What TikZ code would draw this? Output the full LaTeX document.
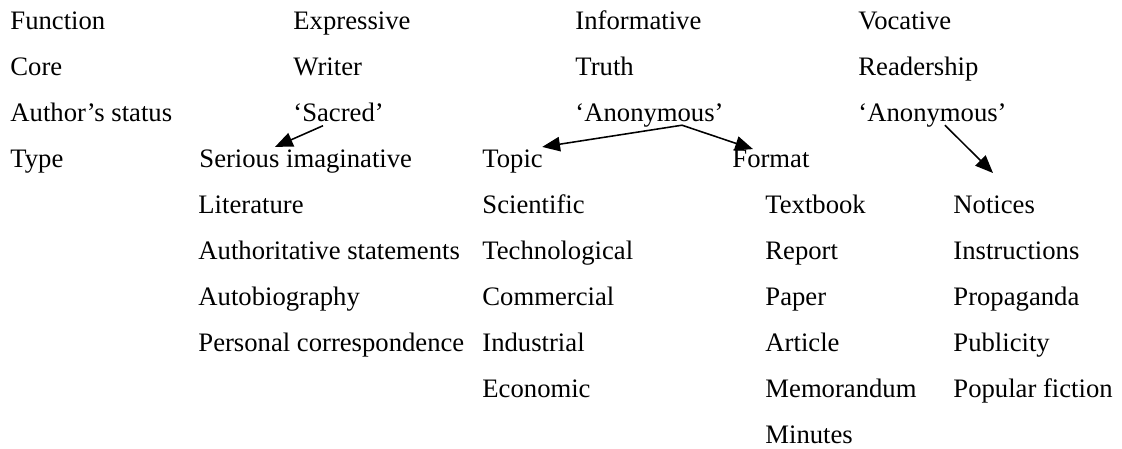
\documentclass[tikz,border=0pt]{standalone}
\usepackage{fontspec}
\setmainfont{Liberation Serif}
\usetikzlibrary{arrows.meta,calc}
\tikzset{txt/.style={anchor=base west,inner sep=0pt,font=\fontsize{12}{14}\selectfont},
  arr/.style={-{Triangle[length=8pt,width=6.5pt]},line width=0.7pt}}

\begin{document}
\begin{tikzpicture}[x=0.45pt,y=-0.45pt]
\useasboundingbox (0,0) rectangle (1122,448);
% row headings
\node[txt] (hfun) at (10,29) {Function};
\node[txt] (hcore) at (10,75) {Core};
\node[txt] (hstat) at (10,121) {Author’s status};
\node[txt] (htype) at (10,167) {Type};
% the three functions
\node[txt] (expr) at (293,29) {Expressive};
\node[txt] (info) at (575,29) {Informative};
\node[txt] (voc) at (858,29) {Vocative};
\node[txt] (writer) at (293,75) {Writer};
\node[txt] (truth) at (575,75) {Truth};
\node[txt] (reader) at (858,75) {Readership};
\node[txt] (sacred) at (293,121) {‘Sacred’};
\node[txt] (anon2) at (575,121) {‘Anonymous’};
\node[txt] (anon3) at (858,121) {‘Anonymous’};
% types
\node[txt] (serious) at (199,167) {Serious imaginative};
\node[txt] (topic) at (482,167) {Topic};
\node[txt] (format) at (732,167) {Format};
\coordinate (vocpt) at (993,173);
% lists
\foreach \t [count=\i] in {Literature,Authoritative statements,Autobiography,Personal correspondence}
  \node[txt] (expr\i) at (198,{167+46.1*\i}) {\t};
\foreach \t [count=\i] in {Scientific,Technological,Commercial,Industrial,Economic}
  \node[txt] (topic\i) at (482,{167+46.1*\i}) {\t};
\foreach \t [count=\i] in {Textbook,Report,Paper,Article,Memorandum,Minutes}
  \node[txt] (fmt\i) at (765,{167+46.1*\i}) {\t};
\foreach \t [count=\i] in {Notices,Instructions,Propaganda,Publicity,Popular fiction}
  \node[txt] (voc\i) at (953,{167+46.1*\i}) {\t};
% arrows
\draw[arr] ($(sacred.south west)+(30,4)$) -- ($(serious.north west)+(76,-2)$);
\draw[arr] ($(anon2.south west)+(107,-2)$) -- ($(topic.north east)+(-1,-2)$);
\draw[arr] ($(anon2.south west)+(107,-2)$) -- ($(format.north west)+(21,0)$);
\draw[arr] ($(anon3.south west)+(87,-2)$) -- (vocpt);
\end{tikzpicture}
\end{document}
